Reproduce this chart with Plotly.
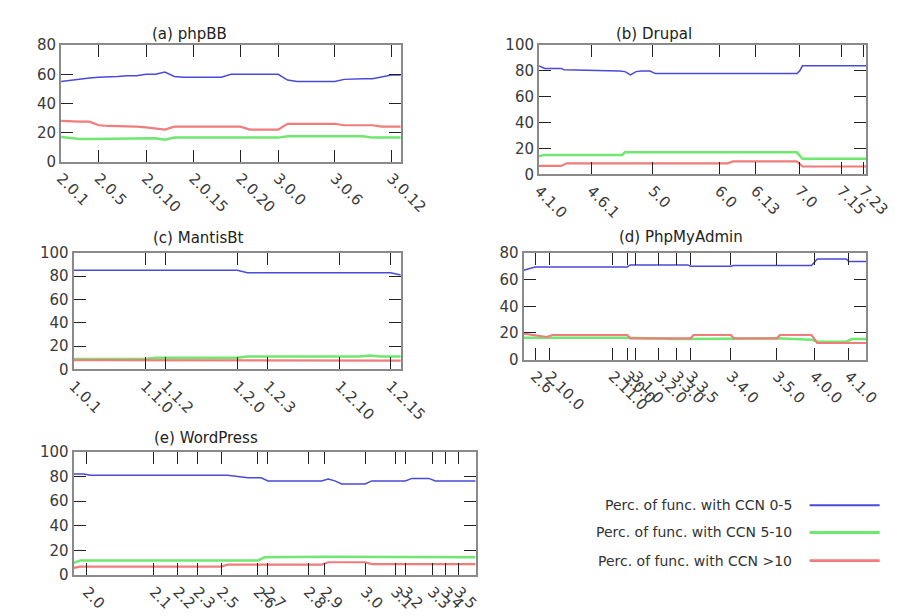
import plotly.graph_objects as go

W, H = 916, 616

# ---------------- data ----------------
# (a) phpBB : one value per release index 0..36
phpbb_x = list(range(37))
phpbb_ccn_0_5 = [55, 56, 57, 57.5, 58, 58, 58.5, 59, 59, 60, 60, 61.5, 58.5, 58, 58, 58, 58, 58, 60,
                 60, 60, 60, 60, 60, 56, 55, 55, 55, 55, 55, 56.5, 57, 57, 57, 58.5, 59.5, 59.5]
phpbb_ccn_5_10 = [17, 16, 15.5, 15.5, 15.5, 16, 16, 16, 16, 16, 16, 15, 16.5, 16.5, 16.5, 16.5, 16.5, 16.5, 16.5,
                  16.5, 16.5, 16.5, 16.5, 16.5, 17.5, 17.5, 17.5, 18, 18, 18, 17.5, 17.5, 17.5, 16.5, 16.5, 16.5, 16.5]
phpbb_ccn_gt10 = [28, 27.5, 27.5, 27.5, 25, 24.5, 24.5, 24.5, 24, 23.5, 23, 22, 24, 24, 24, 24, 24, 24, 24,
                  24, 22, 22, 22, 22, 26, 26, 26, 26, 26, 26, 25, 25, 25, 25, 24, 24, 24]
phpbb_tick_idx = [0, 4, 9, 14, 19, 23, 29, 35]
phpbb_tick_lbl = ["2.0.1", "2.0.5", "2.0.10", "2.0.15", "2.0.20", "3.0.0", "3.0.6", "3.0.12"]

# (b) Drupal : values at change points (release index)
drupal_b_x = [0, 1, 2, 8, 9, 29, 31, 33, 35, 37, 40, 42, 93, 94, 95, 118]
drupal_b_y = [84, 83, 82, 82, 81, 80, 79.5, 77, 79.5, 80, 80, 78, 78, 80, 84, 84]
drupal_g_x = [0, 2, 30, 31, 93, 95, 118]
drupal_g_y = [14, 15, 15, 17, 17, 12, 12]
drupal_r_x = [0, 8, 10, 68, 70, 93, 95, 118]
drupal_r_y = [6.5, 6.5, 8.5, 8.5, 10, 10, 6, 6]
drupal_tick_idx = [0, 19, 41, 65, 78, 94, 109, 117]
drupal_tick_lbl = ["4.1.0", "4.6.1", "5.0", "6.0", "6.13", "7.0", "7.15", "7.23"]

# (c) MantisBt
mantis_b_x = [0, 8, 10, 12, 16, 17, 31, 32]
mantis_b_y = [85, 85, 84.5, 85, 85, 83, 83, 81]
mantis_g_x = [0, 7, 8, 16, 17, 28, 29, 30, 32]
mantis_g_y = [9, 9, 10, 10, 11, 11, 12, 11, 11]
mantis_r_x = [0, 7, 9, 32]
mantis_r_y = [8, 8, 7.5, 7.5]
mantis_tick_idx = [0, 7, 9, 16, 19, 26, 31]
mantis_tick_lbl = ["1.0.1", "1.1.0", "1.1.2", "1.2.0", "1.2.3", "1.2.10", "1.2.15"]

# (d) PhpMyAdmin
pma_b_x = [0, 3, 4, 36, 37, 57, 58, 72, 73, 100, 102, 112, 113, 119]
pma_b_y = [67, 68.5, 69.5, 69.5, 71, 71, 70, 70, 70.5, 70.5, 75.5, 75.5, 73.5, 73.5]
pma_g_x = [0, 36, 53, 72, 88, 100, 102, 112, 114, 119]
pma_g_y = [16.5, 16.5, 15.5, 15.5, 16, 15, 13.5, 13.5, 15.5, 15.5]
pma_r_x = [0, 4, 8, 10, 36, 37, 53, 58, 59, 72, 73, 88, 89, 100, 102, 119]
pma_r_y = [19.5, 18.5, 17, 18.5, 18.5, 16, 16, 16, 18.5, 18.5, 16, 16, 18.5, 18.5, 12.5, 12.5]
pma_tick_idx = [4, 9, 31, 36, 39, 47, 53, 58, 72, 88, 101, 113]
pma_tick_lbl = ["2.6", "2.10.0", "2.11.0", "3.0.0", "3.1.0", "3.2.0", "3.3.0", "3.3.5",
                "3.4.0", "3.5.0", "4.0.0", "4.1.0"]

# (e) WordPress
wp_b_x = [0, 3, 5, 46, 52, 56, 58, 74, 76, 78, 80, 87, 89, 99, 101, 106, 108, 120]
wp_b_y = [82, 82, 81, 81, 79, 79, 76.5, 76.5, 78, 76.5, 74, 74, 76.5, 76.5, 78.5, 78.5, 76.5, 76.5]
wp_g_x = [0, 2, 55, 57, 75, 87, 89, 120]
wp_g_y = [10, 12, 12, 14.5, 15, 15, 14.5, 14.5]
wp_r_x = [0, 2, 44, 46, 74, 76, 87, 89, 120]
wp_r_y = [6, 7, 7, 8.5, 8.5, 10.5, 10.5, 9, 9]
wp_tick_idx = [4, 24, 31, 37, 44, 55, 58, 70, 75, 87, 96, 99, 107, 111, 115]
wp_tick_lbl = ["2.0", "2.1", "2.2", "2.3", "2.5", "2.6", "2.7", "2.8", "2.9", "3.0",
               "3.1", "3.2", "3.3", "3.4", "3.5"]

series_names = ["Perc. of func. with CCN 0-5", "Perc. of func. with CCN 5-10",
                "Perc. of func. with CCN >10"]
titles = ["(a) phpBB", "(b) Drupal", "(c) MantisBt", "(d) PhpMyAdmin", "(e) WordPress"]

# ---------------- styling ----------------
BLUE, GREEN, RED = "#4a4ad8", "#6ee86e", "#f07c7c"
WID = {BLUE: 1.5, GREEN: 2.5, RED: 2.2}
FONT = "DejaVu Sans"
TXT = "#3a3a3a"

def px_x(p):
    return p / W

def px_y(p):
    return 1 - p / H

panels = [
    dict(box=(47, 401, 29, 149), xmax=36, ymax=80,
         series=[(phpbb_x, phpbb_ccn_0_5), (phpbb_x, phpbb_ccn_5_10), (phpbb_x, phpbb_ccn_gt10)],
         ticks=(phpbb_tick_idx, phpbb_tick_lbl), tpos=(181, 17)),
    dict(box=(545, 886, 29, 162), xmax=118, ymax=100,
         series=[(drupal_b_x, drupal_b_y), (drupal_g_x, drupal_g_y), (drupal_r_x, drupal_r_y)],
         ticks=(drupal_tick_idx, drupal_tick_lbl), tpos=(665, 17)),
    dict(box=(60, 401, 243, 363), xmax=32, ymax=100,
         series=[(mantis_b_x, mantis_b_y), (mantis_g_x, mantis_g_y), (mantis_r_x, mantis_r_y)],
         ticks=(mantis_tick_idx, mantis_tick_lbl), tpos=(190, 228)),
    dict(box=(529, 886, 243, 353), xmax=119, ymax=80,
         series=[(pma_b_x, pma_b_y), (pma_g_x, pma_g_y), (pma_r_x, pma_r_y)],
         ticks=(pma_tick_idx, pma_tick_lbl), tpos=(693, 227)),
    dict(box=(60, 479, 448, 575), xmax=120, ymax=100,
         series=[(wp_b_x, wp_b_y), (wp_g_x, wp_g_y), (wp_r_x, wp_r_y)],
         ticks=(wp_tick_idx, wp_tick_lbl), tpos=(198, 434)),
]

fig = go.Figure()
layout = {}
annotations = []
shapes = []

for i, p in enumerate(panels):
    n = "" if i == 0 else str(i + 1)
    x0, x1, y0, y1 = p["box"]
    for (xs, ys), col, name in zip(p["series"], [BLUE, GREEN, RED], series_names):
        fig.add_trace(go.Scatter(x=xs, y=ys, mode="lines", name=name,
                                 line=dict(color=col, width=WID[col]),
                                 xaxis="x" + n, yaxis="y" + n, showlegend=False))
    tv, tt = p["ticks"]
    layout["xaxis" + n] = dict(
        domain=[px_x(x0), px_x(x1)], anchor="y" + n, range=[0, p["xmax"]],
        tickmode="array", tickvals=tv, ticktext=tt, tickangle=45,
        ticks="inside", ticklen=12, tickwidth=1.3, tickcolor="#222",
        showline=True, linecolor="#8a8a8a", linewidth=2, mirror="ticks",
        showgrid=False, zeroline=False,
        tickfont=dict(family=FONT, size=15, color=TXT),
    )
    layout["yaxis" + n] = dict(
        domain=[px_y(y1), px_y(y0)], anchor="x" + n, range=[0, p["ymax"]],
        tickmode="linear", tick0=0, dtick=20,
        ticks="inside", ticklen=12, tickwidth=1.3, tickcolor="#222",
        showline=True, linecolor="#8a8a8a", linewidth=2, mirror="ticks",
        showgrid=False, zeroline=False,
        tickfont=dict(family=FONT, size=15, color=TXT),
    )
    tx, ty = p["tpos"]
    annotations.append(dict(text=titles[i], x=px_x(tx), y=px_y(ty), xref="paper", yref="paper",
                            showarrow=False, xanchor="center", yanchor="middle",
                            font=dict(family=FONT, size=15, color="#222")))

# legend (gnuplot style: text then sample line)
leg_y = [503, 531, 560]
for name, col, yy in zip(series_names, [BLUE, GREEN, RED], leg_y):
    annotations.append(dict(text=name, x=px_x(811), y=px_y(yy), xref="paper", yref="paper",
                            showarrow=False, xanchor="right", yanchor="middle",
                            font=dict(family=FONT, size=14, color="#333")))
    shapes.append(dict(type="line", xref="paper", yref="paper",
                       x0=px_x(827), x1=px_x(900), y0=px_y(yy), y1=px_y(yy),
                       line=dict(color=col, width=WID[col] + 0.5)))

fig.update_layout(
    width=W, height=H, margin=dict(l=0, r=0, t=0, b=0),
    paper_bgcolor="white", plot_bgcolor="white",
    annotations=annotations, shapes=shapes, showlegend=False,
    **layout,
)

fig.write_html("out.html")
